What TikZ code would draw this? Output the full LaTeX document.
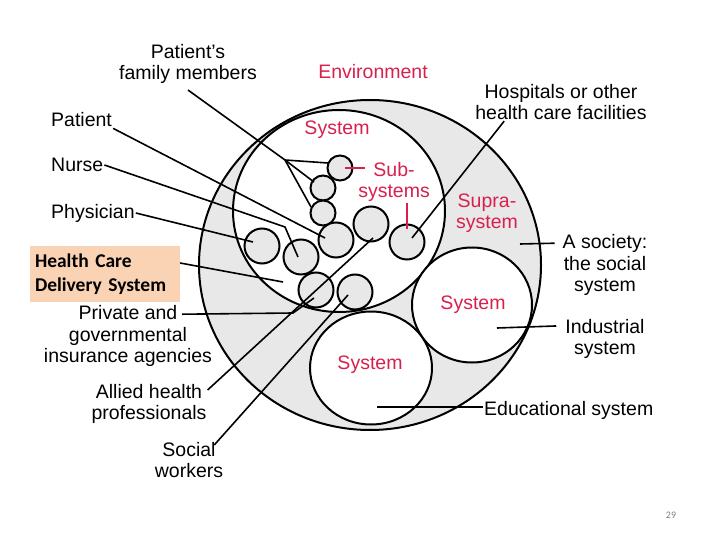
\documentclass[tikz,border=0pt]{standalone}
\usepackage{fontspec}
\setmainfont{Liberation Sans}
\newfontfamily\boxfont{Carlito}
\usetikzlibrary{shapes.geometric}
\definecolor{sysred}{RGB}{216,32,78}
\definecolor{shade}{RGB}{232,232,232}
\definecolor{peach}{RGB}{249,211,180}

\begin{document}
\begin{tikzpicture}[x=1pt,y=-1pt,
    every node/.style={font=\fontsize{19.5}{21.5}\selectfont, align=center, inner sep=1pt},
    red text/.style={text=sysred},
    sys/.style={ellipse, draw, line width=2pt, fill=white, inner sep=0pt},
    sub/.style={circle, draw, line width=2pt, fill=shade, inner sep=0pt, minimum size=35pt},
    small sub/.style={sub, minimum size=25pt},
    link/.style={line width=1.6pt}]
  \useasboundingbox (0,0) rectangle (720,540);
  % environment, system and the two other systems
  \node[sys, fill=shade, minimum width=342pt, minimum height=330pt] (env) at (370,265) {};
  \node[sys, minimum width=212pt, minimum height=202pt] (hcsys) at (339,211) {};
  \node[sys, minimum width=120pt, minimum height=115pt] (indsys) at (472,305) {};
  \node[sys, minimum width=122pt, minimum height=113pt] (edusys) at (371,368) {};
  % subsystems
  \node[small sub] (s1) at (340,168) {};
  \node[small sub] (s2) at (323,188) {};
  \node[small sub] (s3) at (323,213) {};
  \node[sub] (s4) at (336,240) {};
  \node[sub] (s5) at (371,224) {};
  \node[sub] (s6) at (407,242) {};
  \node[sub] (s7) at (262,246) {};
  \node[sub] (s8) at (301,257) {};
  \node[sub] (s9) at (316,290) {};
  \node[sub] (s10) at (355,292) {};

  % labels
  \node (family) at (188,64) {Patient’s\\family members};
  \node[anchor=west] (patient) at (50,120) {Patient};
  \node[anchor=west] (nurse) at (50,165) {Nurse};
  \node[anchor=west] (physician) at (50,213) {Physician};
  \node[fill=peach, font=\boxfont\bfseries\fontsize{19.5}{24}\selectfont, text width=140pt,
        align=left, inner xsep=5pt, inner ysep=0pt, minimum height=56pt] (hcds) at (105,274)
        {Health Care\\Delivery System};
  \node (insurance) at (128,336) {Private and\\governmental\\insurance agencies};
  \node (allied) at (149,404) {Allied health\\professionals};
  \node (social) at (189,460) {Social\\workers};
  \node (hospitals) at (561,102) {Hospitals or other\\health care facilities};
  \node (society) at (605,265) {A society:\\the social\\system};
  \node (industrial) at (605,339) {Industrial\\system};
  \node[anchor=west] (educational) at (483,410) {Educational system};
  \node[red text] (envlbl) at (373,72) {Environment};
  \node[red text] (syslbl) at (337,130) {System};
  \node[red text] (subsys) at (394,182) {Sub-\\systems};
  \node[red text] (supra) at (487,213) {Supra-\\system};
  \node[red text] (indlbl) at (473,305) {System};
  \node[red text] (edulbl) at (370,365) {System};
  \node[font=\boxfont\fontsize{10}{12}\selectfont, text=gray] (pagenum) at (671,515) {29};

  % connectors
  \coordinate (fam) at (285,160);
  \coordinate (f1) at (328,163);
  \coordinate (f2) at (314,182);
  \coordinate (f3) at (311,207);
  \coordinate (nurse-bend) at (285,227);
  \coordinate (ins-bend) at (293,313);
  \draw[link] ([yshift=-5pt]family.south) -- (fam);
  \path[link] (fam) edge (f1) (fam) edge (f2) (fam) edge (f3);
  \draw[link] (patient.south east) -- (325,238) coordinate (patient-end);
  \draw[link] (nurse.east) -- (nurse-bend) -- (298,257) coordinate (nurse-end);
  \draw[link] (physician.east) -- (253,242) coordinate (physician-end);
  \draw[link] ([yshift=11pt]hcds.east) -- (283,282) coordinate (hcds-end);
  \draw[link] ([xshift=54pt,yshift=-10pt]insurance.north) -- (ins-bend) -- (314,298) coordinate (ins-end);
  \draw[link] ([yshift=-7pt]allied.north east) -- (373,238) coordinate (allied-end);
  \draw[link] ([xshift=-10pt,yshift=-4pt]social.north east) -- (348,295) coordinate (social-end);
  \draw[link] ([xshift=30pt]hospitals.south west) -- (412,238) coordinate (hosp-end);
  \draw[link] ([xshift=-7pt,yshift=-10pt]society.north west) -- (520,244) coordinate (soc-end);
  \draw[link] ([xshift=-8pt,yshift=-8pt]industrial.north west) -- (497,328) coordinate (ind-end);
  \draw[link] ([yshift=3pt]educational.west) -- (377,407) coordinate (edu-end);
  \draw[link, sysred] ([xshift=5pt]s1.center) -- ([xshift=8pt]subsys.west |- s1);
  \draw[link, sysred] (subsys.south -| s6) -- ([yshift=-6pt]s6.north);
\end{tikzpicture}
\end{document}
